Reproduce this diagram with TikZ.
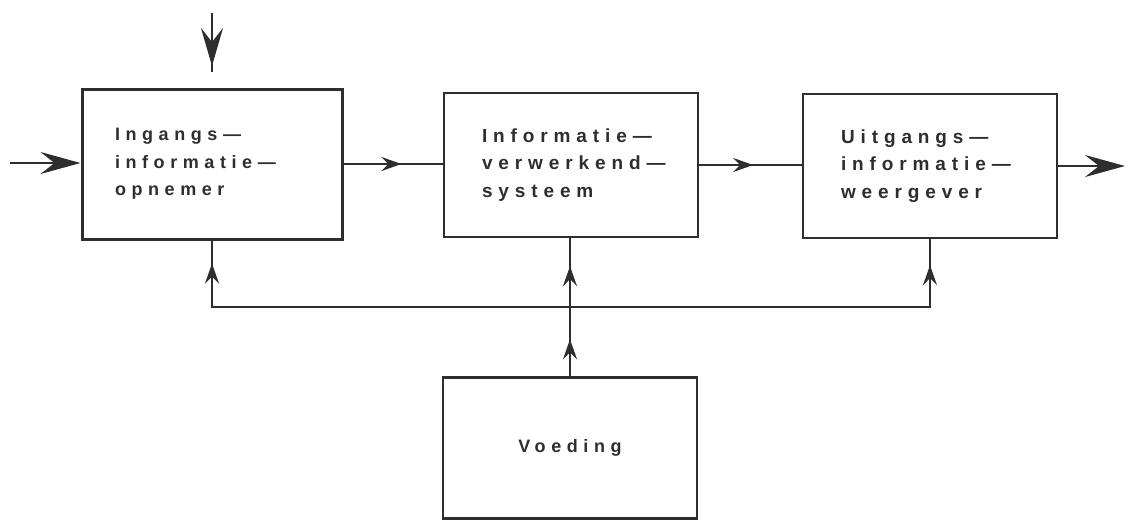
\documentclass[tikz,border=0pt]{standalone}
\usepackage{fontspec}
\newfontfamily\blokfont{Liberation Sans}[LetterSpace=31]
\usetikzlibrary{arrows.meta,decorations.markings}
\definecolor{inkt}{HTML}{2E2E2E}

\begin{document}
\begin{tikzpicture}[x=1pt,y=-1pt,
  blok/.style={draw=inkt, line width=2.4pt, minimum width=254pt, minimum height=144pt,
    inner xsep=38pt, text width=178pt, align=left, text=inkt,
    font=\blokfont\bfseries\fontsize{19}{27.5}\selectfont},
  lijn/.style={draw=inkt, line width=2pt},
  kleinepijl/.style={postaction={decorate,decoration={markings,
    mark=at position #1 with {\arrow{Stealth[length=20pt,width=14pt,inset=7pt]}}}}},
  grotepijl/.style={postaction={decorate,decoration={markings,
    mark=at position #1 with {\arrow{Stealth[length=38pt,width=22pt,inset=14pt]}}}}},
  grotekop/.style={-{Stealth[length=40pt,width=22pt,inset=14pt]}}
]
\useasboundingbox (0,0) rectangle (1131,523);
% blokken
\node[blok, line width=3pt, minimum width=260pt, minimum height=150pt, inner xsep=33pt,
  text width=194pt, font=\blokfont\bfseries\fontsize{18}{27.5}\selectfont]
  (opnemer) at (212,164) {Ingangs—\\\mbox{informatie—}\\opnemer};
\node[blok] (verwerking) at (571,165) {\mbox{Informatie—}\\\mbox{verwerkend—}\\systeem};
\node[blok] (weergever) at (930,166) {Uitgangs—\\\mbox{informatie—}\\weergever};
\node[blok, minimum height=141pt, align=center, font=\blokfont\bfseries\fontsize{18}{27}\selectfont]
  (voeding) at (570,448) {Voeding};
% vrije uiteinden
\coordinate (ingang) at (10,163);
\coordinate (uitgang) at (1125,166);
\coordinate (bovenA) at (212,13);
\coordinate (bovenB) at (212,72);
\coordinate (knoop) at (570,307);
% informatiestroom
\draw[lijn, grotekop] (ingang) -- (ingang -| opnemer.west);
\draw[lijn, grotepijl=-6pt] (bovenA) -- (bovenB);
\draw[lijn, kleinepijl=58pt] (opnemer.east) -- (opnemer.east -| verwerking.west);
\draw[lijn, kleinepijl=54pt] (verwerking.east) -- (verwerking.east -| weergever.west);
\draw[lijn, grotekop] (weergever.east) -- (uitgang);
% voeding
\draw[lijn, kleinepijl=37pt, kleinepijl=-28pt] (voeding.north) -- (voeding.north |- verwerking.south);
\draw[lijn, kleinepijl=-23pt] (knoop) -| (opnemer.south);
\draw[lijn, kleinepijl=-26pt] (knoop) -| (weergever.south);
\end{tikzpicture}
\end{document}
